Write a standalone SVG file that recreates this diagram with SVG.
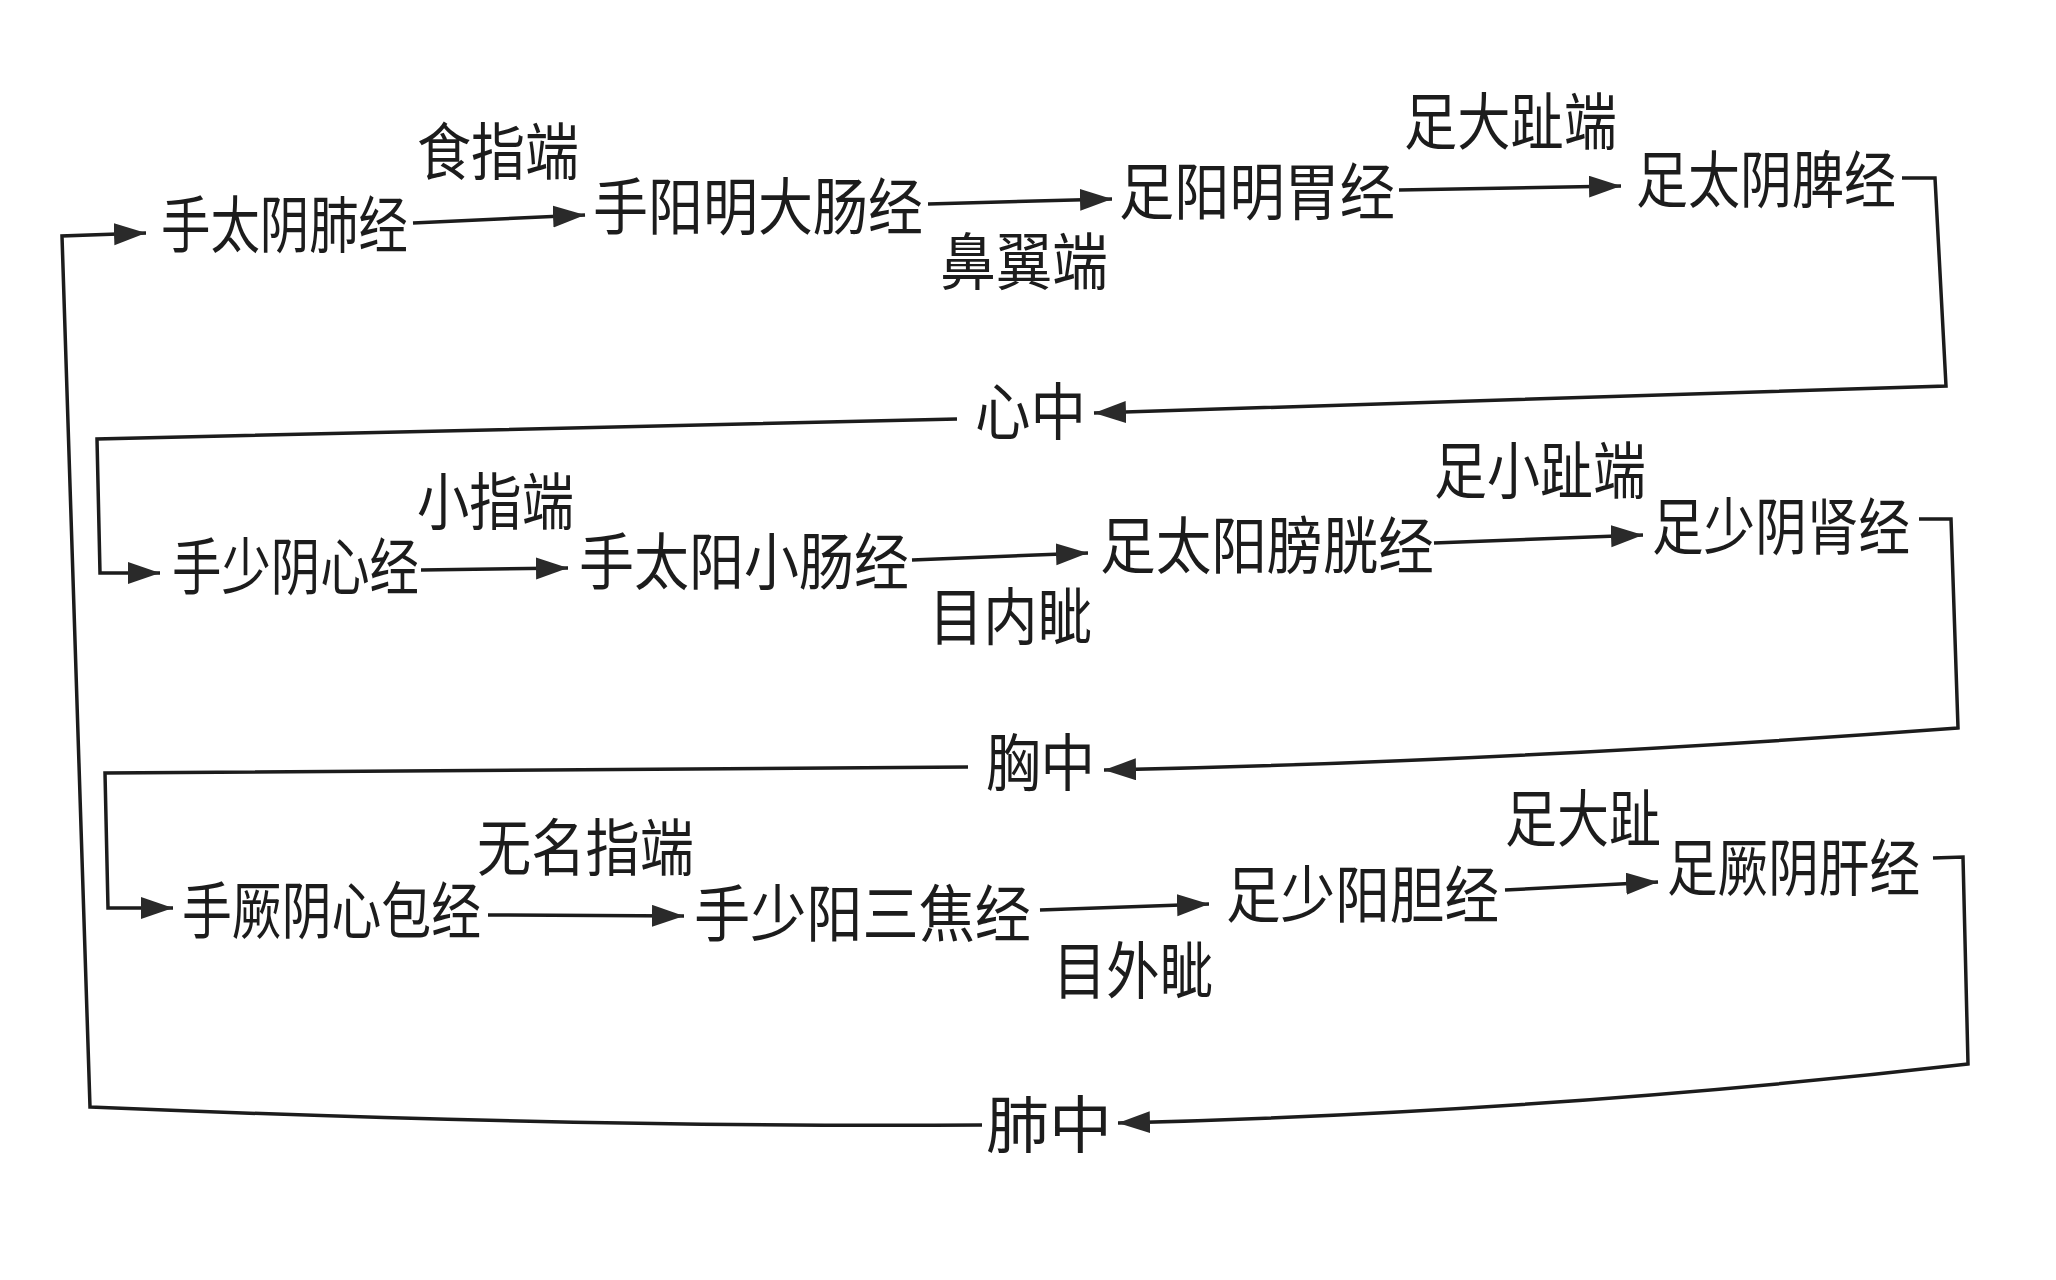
<svg xmlns="http://www.w3.org/2000/svg" width="2056" height="1280" viewBox="0 0 2056 1280">
<style>
text{font-family:"Noto Sans CJK SC","Noto Sans CJK TC",sans-serif;font-size:62px;fill:#1c1c1c;}
.c path{fill:none;stroke:#1c1c1c;stroke-width:3.5;stroke-linejoin:miter;}
</style>
<defs>
<marker id="ah" markerUnits="userSpaceOnUse" markerWidth="34" markerHeight="24" refX="32" refY="11" orient="auto">
<path d="M0,0 L32,11 L0,22 z" fill="#2a2a2a"/>
</marker>
</defs>
<rect width="2056" height="1280" fill="#ffffff"/>
<g id="n1"><text x="161" y="248" textLength="247" lengthAdjust="spacingAndGlyphs">手太阴肺经</text></g>
<g id="l1"><text x="417" y="175" textLength="162" lengthAdjust="spacingAndGlyphs">食指端</text></g>
<g id="n2"><text x="593" y="230" textLength="330" lengthAdjust="spacingAndGlyphs">手阳明大肠经</text></g>
<g id="l2"><text x="940" y="285" textLength="168" lengthAdjust="spacingAndGlyphs">鼻翼端</text></g>
<g id="n3"><text x="1119" y="215" textLength="276" lengthAdjust="spacingAndGlyphs">足阳明胃经</text></g>
<g id="l3"><text x="1404" y="145" textLength="213" lengthAdjust="spacingAndGlyphs">足大趾端</text></g>
<g id="n4"><text x="1636" y="203" textLength="260" lengthAdjust="spacingAndGlyphs">足太阴脾经</text></g>
<g id="h1"><text x="975" y="435" textLength="111" lengthAdjust="spacingAndGlyphs">心中</text></g>
<g id="n5"><text x="172" y="590" textLength="247" lengthAdjust="spacingAndGlyphs">手少阴心经</text></g>
<g id="l4"><text x="417" y="525" textLength="157" lengthAdjust="spacingAndGlyphs">小指端</text></g>
<g id="n6"><text x="579" y="585" textLength="330" lengthAdjust="spacingAndGlyphs">手太阳小肠经</text></g>
<g id="l5"><text x="929" y="640" textLength="163" lengthAdjust="spacingAndGlyphs">目内眦</text></g>
<g id="n7"><text x="1100" y="569" textLength="334" lengthAdjust="spacingAndGlyphs">足太阳膀胱经</text></g>
<g id="l6"><text x="1434" y="494" textLength="212" lengthAdjust="spacingAndGlyphs">足小趾端</text></g>
<g id="n8"><text x="1652" y="550" textLength="258" lengthAdjust="spacingAndGlyphs">足少阴肾经</text></g>
<g id="h2"><text x="986" y="786" textLength="109" lengthAdjust="spacingAndGlyphs">胸中</text></g>
<g id="n9"><text x="182" y="934" textLength="299" lengthAdjust="spacingAndGlyphs">手厥阴心包经</text></g>
<g id="l7"><text x="477" y="871" textLength="217" lengthAdjust="spacingAndGlyphs">无名指端</text></g>
<g id="n10"><text x="694" y="937" textLength="337" lengthAdjust="spacingAndGlyphs">手少阳三焦经</text></g>
<g id="l8"><text x="1053" y="994" textLength="160" lengthAdjust="spacingAndGlyphs">目外眦</text></g>
<g id="n11"><text x="1226" y="918" textLength="273" lengthAdjust="spacingAndGlyphs">足少阳胆经</text></g>
<g id="l9"><text x="1505" y="842" textLength="156" lengthAdjust="spacingAndGlyphs">足大趾</text></g>
<g id="n12"><text x="1667" y="891" textLength="253" lengthAdjust="spacingAndGlyphs">足厥阴肝经</text></g>
<g id="h3"><text x="986" y="1148" textLength="126" lengthAdjust="spacingAndGlyphs">肺中</text></g>
<g class="c" id="connectors">
<path d="M413,223 L585,215" marker-end="url(#ah)"/>
<path d="M928,204 L1112,199" marker-end="url(#ah)"/>
<path d="M1399,190 L1621,186" marker-end="url(#ah)"/>
<path d="M1902,178 L1935,178 L1946,386 L1094,413" marker-end="url(#ah)"/>
<path d="M957,419 L97,439 L100,573 L160,573" marker-end="url(#ah)"/>
<path d="M421,570 L568,568" marker-end="url(#ah)"/>
<path d="M912,560 L1088,553" marker-end="url(#ah)"/>
<path d="M1434,543 L1643,535" marker-end="url(#ah)"/>
<path d="M1919,519 L1951,519 L1958,728 Q1500,762 1104,770" marker-end="url(#ah)"/>
<path d="M968,767 L105,773 L108,908 L173,908" marker-end="url(#ah)"/>
<path d="M488,915 L684,916" marker-end="url(#ah)"/>
<path d="M1040,910 L1209,904" marker-end="url(#ah)"/>
<path d="M1505,890 L1658,882" marker-end="url(#ah)"/>
<path d="M1933,858 L1963,857 L1968,1064 Q1550,1112 1118,1123" marker-end="url(#ah)"/>
<path d="M982,1125 C700,1127 400,1120 90,1107 L62,236 L146,233" marker-end="url(#ah)"/>
</g>
</svg>
